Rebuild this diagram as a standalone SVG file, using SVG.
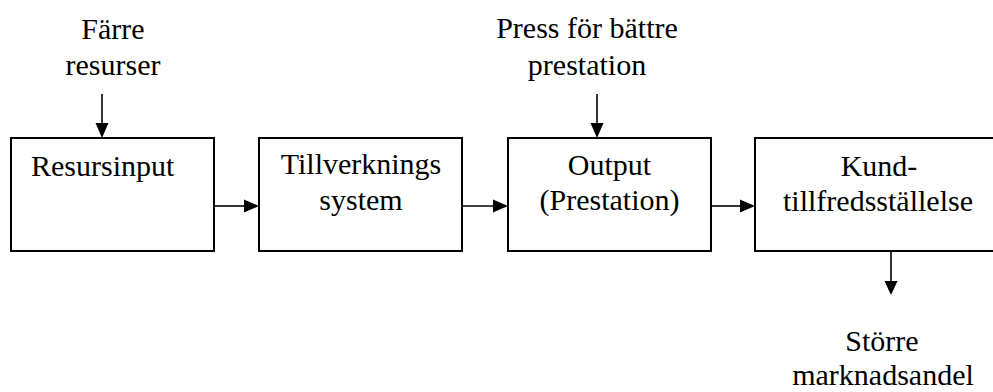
<svg xmlns="http://www.w3.org/2000/svg" width="993" height="392" viewBox="0 0 993 392">
  <style>
    .box { fill: #ffffff; stroke: #000000; stroke-width: 2; }
    .line { stroke: #000000; stroke-width: 1.6; fill: none; }
    .head { fill: #000000; stroke: none; }
    text { font-family: "Liberation Serif", "Times New Roman", serif; font-size: 30px; fill: #000000; }
    .c { text-anchor: middle; }
  </style>
  <rect width="993" height="392" fill="#ffffff"/>

  <!-- process chain -->
  <g id="resursinput">
    <rect class="box" x="11" y="138" width="203" height="113"/>
    <text x="31" y="176">Resursinput</text>
  </g>
  <g id="tillverkningssystem">
    <rect class="box" x="259" y="138" width="203" height="113"/>
    <text class="c" x="361" y="174">Tillverknings</text>
    <text class="c" x="361" y="210">system</text>
  </g>
  <g id="output">
    <rect class="box" x="508" y="138" width="203" height="113"/>
    <text class="c" x="609.5" y="175">Output</text>
    <text class="c" x="609.5" y="210">(Prestation)</text>
  </g>
  <g id="kundtillfredsstallelse">
    <rect class="box" x="755" y="138" width="242" height="113"/>
    <text class="c" x="879" y="176">Kund-</text>
    <text class="c" x="878" y="211">tillfredsställelse</text>
  </g>

  <!-- external influences and result -->
  <g id="farre-resurser">
    <text class="c" x="113" y="39">Färre</text>
    <text class="c" x="113" y="75">resurser</text>
  </g>
  <g id="press">
    <text class="c" x="587" y="38">Press för bättre</text>
    <text class="c" x="587" y="75">prestation</text>
  </g>
  <g id="storre-marknadsandel">
    <text class="c" x="882" y="351">Större</text>
    <text class="c" x="883" y="385">marknadsandel</text>
  </g>

  <!-- connectors -->
  <g id="connectors">
    <line class="line" x1="214" y1="206" x2="246" y2="206"/>
    <polygon class="head" points="244,199.5 259,206 244,212.5"/>
    <line class="line" x1="462" y1="206" x2="495" y2="206"/>
    <polygon class="head" points="493,199.5 508,206 493,212.5"/>
    <line class="line" x1="711" y1="206" x2="742" y2="206"/>
    <polygon class="head" points="740,199.5 755,206 740,212.5"/>

    <line class="line" x1="102" y1="94" x2="102" y2="125"/>
    <polygon class="head" points="95.5,123 102,138 108.5,123"/>
    <line class="line" x1="597" y1="94" x2="597" y2="125"/>
    <polygon class="head" points="590.5,123 597,138 603.5,123"/>
    <line class="line" x1="891" y1="251" x2="891" y2="283"/>
    <polygon class="head" points="884.5,281 891,295 897.5,281"/>
  </g>
</svg>
